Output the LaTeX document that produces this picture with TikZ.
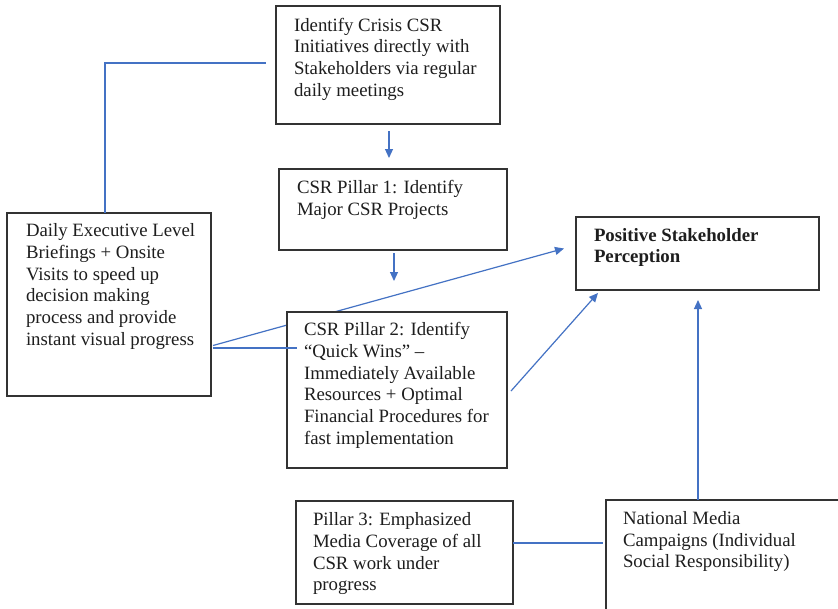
\documentclass[tikz,border=0pt]{standalone}
\usepackage{fontspec}
\setmainfont{Liberation Serif}
\usetikzlibrary{arrows.meta,calc}
\definecolor{lnblue}{HTML}{4472C4}
\definecolor{bxgray}{HTML}{333333}
\definecolor{txtcol}{HTML}{1E1E1E}
\tikzset{
 box/.style={draw=bxgray, line width=1.1pt, fill=white, text=txtcol, font=\fontsize{18.8}{21.7}\selectfont},
 link/.style={draw=lnblue, line width=1.2pt},
 arr/.style={link, -{Triangle[length=9pt,width=8pt]}},
}
\newcommand{\mkbox}[8]{%
 \pgfmathsetmacro{\bxlp}{#6-#2}%
 \pgfmathsetmacro{\bxys}{#7-#3-15.19}%
 \pgfmathsetmacro{\bxpw}{#4-#2-2*\bxlp}%
 \pgfmathsetmacro{\bxph}{#5-#3-2*\bxys}%
 \node[box, anchor=north west, inner xsep=\bxlp pt, inner ysep=\bxys pt, outer sep=0pt] (#1) at (#2,#3) {\parbox[t][\bxph pt][t]{\bxpw pt}{\hbadness=10000\hfuzz=100pt\strut\begin{tabular}[t]{@{}l@{}}#8\end{tabular}}};%
}
\begin{document}
\begin{tikzpicture}[x=1pt,y=-1pt]
\useasboundingbox (0,0) rectangle (838,608);
\clip (0,0) rectangle (838,608);
\fill[white] (0,0) rectangle (838,608);
\mkbox{A}{276}{6}{500}{124}{294}{31}{Identify Crisis CSR\\Initiatives directly with\\Stakeholders via regular\\daily meetings}
\mkbox{B}{279}{169}{507}{250}{297}{193.3}{CSR Pillar 1: Identify\\Major CSR Projects}
\mkbox{D}{7}{213}{211}{396}{26}{236.7}{Daily Executive Level\\Briefings + Onsite\\Visits to speed up\\decision making\\process and provide\\instant visual progress}
\mkbox{P}{576}{217}{819}{290}{594}{241}{\bfseries Positive Stakeholder\\\bfseries Perception}
\mkbox{Q}{296}{501}{513}{604}{313}{525.7}{Pillar 3: Emphasized\\Media Coverage of all\\CSR work under\\progress}
\mkbox{N}{606}{500}{850}{620}{623}{524.3}{National Media\\Campaigns (Individual\\Social Responsibility)}
\draw[arr] ($(D.east)+(2,41)$) -- ($(P.west)+(-12,-5)$);
\mkbox{C}{287}{312}{507}{468}{304}{335.7}{CSR Pillar 2: Identify\\“Quick Wins” –\\Immediately Available\\Resources + Optimal\\Financial Procedures for\\fast implementation}
\draw[link] ($(D.east)+(2,43.5)$) -- ($(D.east -| C.west)+(10,43.5)$);
\draw[arr] ($(A.south)+(1,7)$) -- ($(A.south |- B.north)+(1,-11)$);
\draw[arr] ($(B.south)+(1,3)$) -- ($(B.south |- C.north)+(1,-31)$);
\draw[link] ($(D.north)+(-4,0)$) |- ($(A.west)+(-10,-2)$);
\draw[arr] ($(C.east)+(4,1)$) -- ($(P.south west)+(22,3)$);
\draw[arr] ($(N.north -| P.south)+(0.5,0)$) -- ($(P.south)+(0.5,10)$);
\draw[link] ($(Q.east)+(0,-9.5)$) -- ($(Q.east -| N.west)+(-3,-9.5)$);
\end{tikzpicture}
\end{document}
